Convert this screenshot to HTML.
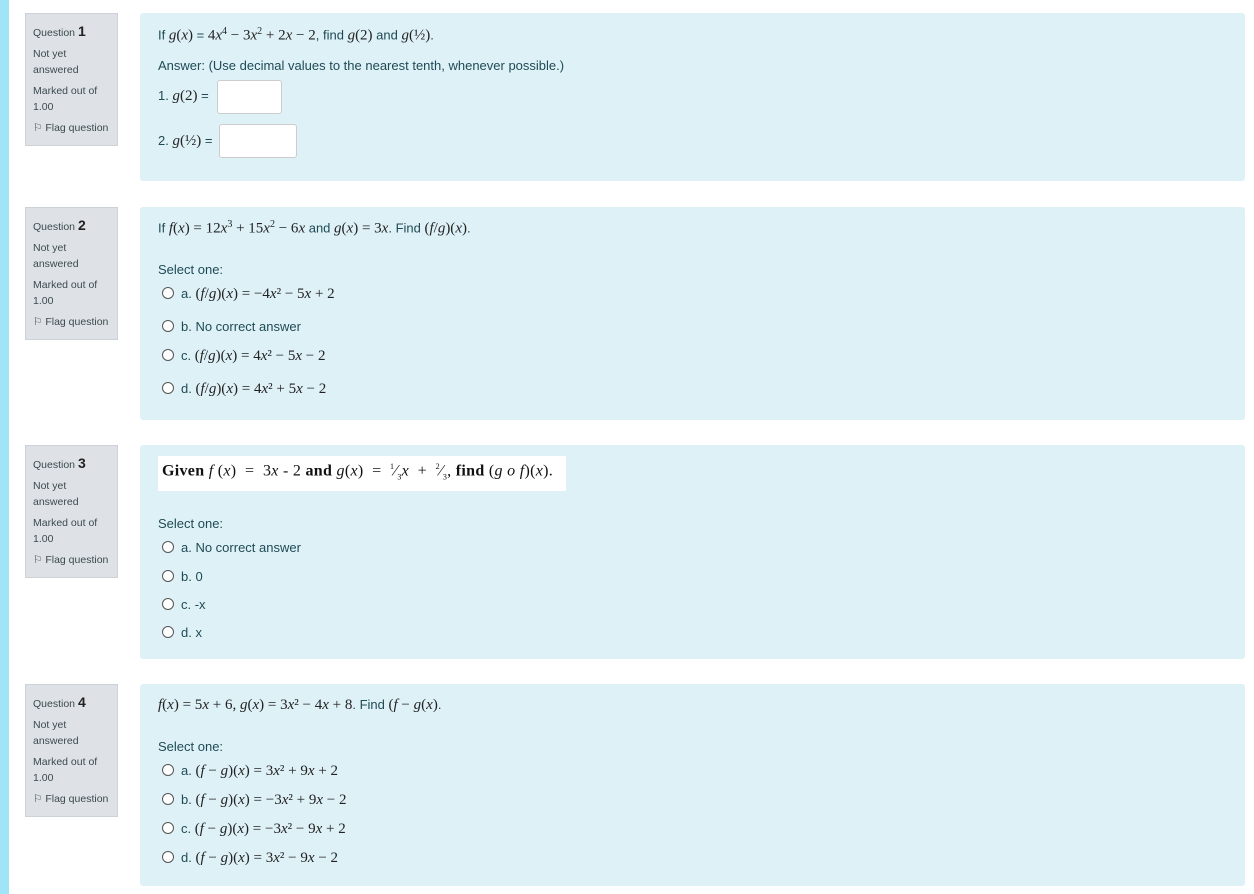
<!DOCTYPE html>
<html><head><meta charset="utf-8"><style>
body{margin:0;width:1254px;height:894px;background:#fff;position:relative;font-family:"Liberation Sans",sans-serif;color:#1f4a55;overflow:hidden}
.strip{position:absolute;left:0;top:0;width:9px;height:894px;background:#9fe4f7}
.info{position:absolute;left:25px;width:93px;height:133px;background:#dee2e6;border:1px solid #cdd2d6;box-sizing:border-box;font-size:10.5px;color:#3b4a50;padding:9px 0 0 7px;line-height:16px}
.info b{font-size:14px;font-weight:bold;color:#222}
.info p{margin:0 0 5px}
.box{position:absolute;left:140px;width:1105px;background:#def1f7;border-radius:3px}
.t{position:absolute;font-size:13px;white-space:nowrap}
.m{font-family:"Liberation Serif",serif;font-style:italic;font-size:15px;color:#222}
.r{font-family:"Liberation Serif",serif;font-size:15px;color:#222}
.rad{display:inline-block;width:10px;height:10px;border:1px solid #555;border-radius:50%;vertical-align:-1px;margin-right:7px;background:#fff}
.inp{position:absolute;width:63px;height:32px;background:#fff;border:1px solid #ccc;border-radius:3px}
</style></head><body>
<div class="strip"></div>

<div class="info" style="top:13px"><p>Question <b>1</b></p><p>Not yet<br>answered</p><p>Marked out of<br>1.00</p><p>⚐ Flag question</p></div>
<div class="box" style="top:13px;height:168px"></div>
<div class="t" style="left:158px;top:26px">If <span class="m">g</span><span class="r">(</span><span class="m">x</span><span class="r">)</span> = <span class="r">4</span><span class="m">x</span><sup class="r" style="font-size:10px">4</sup><span class="r"> − 3</span><span class="m">x</span><sup class="r" style="font-size:10px">2</sup><span class="r"> + 2</span><span class="m">x</span><span class="r"> − 2</span>, find <span class="m">g</span><span class="r">(2)</span> and <span class="m">g</span><span class="r">(½)</span>.</div>
<div class="t" style="left:158px;top:58px">Answer: (Use decimal values to the nearest tenth, whenever possible.)</div>
<div class="t" style="left:158px;top:88px">1. <span class="m">g</span><span class="r">(2)</span> =</div>
<div class="inp" style="left:217px;top:80px"></div>
<div class="t" style="left:158px;top:133px">2. <span class="m">g</span><span class="r">(½)</span> =</div>
<div class="inp" style="left:219px;top:124px;width:76px"></div>

<div class="info" style="top:207px"><p>Question <b>2</b></p><p>Not yet<br>answered</p><p>Marked out of<br>1.00</p><p>⚐ Flag question</p></div>
<div class="box" style="top:207px;height:213px"></div>
<div class="t" style="left:158px;top:219px">If <span class="m">f</span><span class="r">(</span><span class="m">x</span><span class="r">) = 12</span><span class="m">x</span><sup class="r" style="font-size:10px">3</sup><span class="r"> + 15</span><span class="m">x</span><sup class="r" style="font-size:10px">2</sup><span class="r"> − 6</span><span class="m">x</span> and <span class="m">g</span><span class="r">(</span><span class="m">x</span><span class="r">) = 3</span><span class="m">x</span>. Find <span class="r">(</span><span class="m">f</span><span class="r">/</span><span class="m">g</span><span class="r">)(</span><span class="m">x</span><span class="r">)</span>.</div>
<div class="t" style="left:158px;top:262px">Select one:</div>
<div class="t" style="left:162px;top:286px"><span class="rad"></span>a. <span class="r">(<i>f</i>/<i>g</i>)(<i>x</i>) = −4<i>x</i>² − 5<i>x</i> + 2</span></div>
<div class="t" style="left:162px;top:319px"><span class="rad"></span>b. No correct answer</div>
<div class="t" style="left:162px;top:348px"><span class="rad"></span>c. <span class="r">(<i>f</i>/<i>g</i>)(<i>x</i>) = 4<i>x</i>² − 5<i>x</i> − 2</span></div>
<div class="t" style="left:162px;top:381px"><span class="rad"></span>d. <span class="r">(<i>f</i>/<i>g</i>)(<i>x</i>) = 4<i>x</i>² + 5<i>x</i> − 2</span></div>

<div class="info" style="top:445px"><p>Question <b>3</b></p><p>Not yet<br>answered</p><p>Marked out of<br>1.00</p><p>⚐ Flag question</p></div>
<div class="box" style="top:445px;height:214px"></div>
<div style="position:absolute;left:158px;top:456px;width:408px;height:35px;background:#fff"></div>
<div class="t" style="left:162px;top:462px;font-family:'Liberation Serif',serif;font-size:16px;color:#111;letter-spacing:0.3px"><b>Given</b> <i>f</i> (<i>x</i>) &nbsp;= &nbsp;3<i>x</i> - 2 <b>and</b> <i>g</i>(<i>x</i>) &nbsp;= &nbsp;<sup style="font-size:8px">1</sup>⁄<sub style="font-size:8px">3</sub><i>x</i> &nbsp;+ &nbsp;<sup style="font-size:8px">2</sup>⁄<sub style="font-size:8px">3</sub>, <b>find</b> (<i>g o f</i>)(<i>x</i>).</div>
<div class="t" style="left:158px;top:516px">Select one:</div>
<div class="t" style="left:162px;top:540px"><span class="rad"></span>a. No correct answer</div>
<div class="t" style="left:162px;top:569px"><span class="rad"></span>b. 0</div>
<div class="t" style="left:162px;top:597px"><span class="rad"></span>c. -x</div>
<div class="t" style="left:162px;top:625px"><span class="rad"></span>d. x</div>

<div class="info" style="top:684px"><p>Question <b>4</b></p><p>Not yet<br>answered</p><p>Marked out of<br>1.00</p><p>⚐ Flag question</p></div>
<div class="box" style="top:684px;height:202px"></div>
<div class="t" style="left:158px;top:697px"><span class="r"><i>f</i>(<i>x</i>) = 5<i>x</i> + 6, <i>g</i>(<i>x</i>) = 3<i>x</i>² − 4<i>x</i> + 8</span>. Find <span class="r">(<i>f</i> − <i>g</i>(<i>x</i>)</span>.</div>
<div class="t" style="left:158px;top:739px">Select one:</div>
<div class="t" style="left:162px;top:763px"><span class="rad"></span>a. <span class="r">(<i>f</i> − <i>g</i>)(<i>x</i>) = 3<i>x</i>² + 9<i>x</i> + 2</span></div>
<div class="t" style="left:162px;top:792px"><span class="rad"></span>b. <span class="r">(<i>f</i> − <i>g</i>)(<i>x</i>) = −3<i>x</i>² + 9<i>x</i> − 2</span></div>
<div class="t" style="left:162px;top:821px"><span class="rad"></span>c. <span class="r">(<i>f</i> − <i>g</i>)(<i>x</i>) = −3<i>x</i>² − 9<i>x</i> + 2</span></div>
<div class="t" style="left:162px;top:850px"><span class="rad"></span>d. <span class="r">(<i>f</i> − <i>g</i>)(<i>x</i>) = 3<i>x</i>² − 9<i>x</i> − 2</span></div>
</body></html>
